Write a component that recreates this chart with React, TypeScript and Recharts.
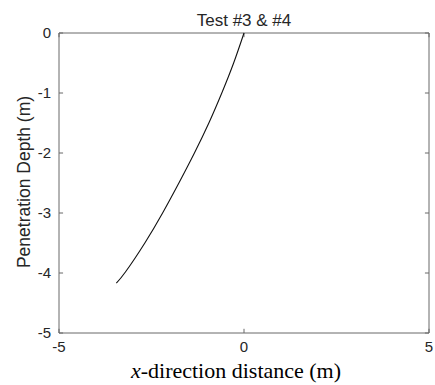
import React from "react";
import { LineChart, Line, XAxis, YAxis, ReferenceLine } from "recharts";

// depth (m) vs x-direction distance (m)
const xDistance = [0, -0.28, -0.6, -0.95, -1.34, -1.76, -2.2, -2.68, -3.2, -3.45];
const depth = [0, -0.5, -1, -1.5, -2, -2.5, -3, -3.5, -3.98, -4.17];

const xTicks = [-5, 0, 5];
const yTicks = [0, -1, -2, -3, -4, -5];

const data = xDistance.map((x, i) => ({ x, y: depth[i] }));

const AXIS = "dimgray";
const TEXT = "#262626";
const SANS = "Liberation Sans, Arial, sans-serif";
// inward tick length in data units (about 4px each way)
const TICK_DX = 0.11;
const TICK_DY = 0.07;

const tickStyle = { fill: TEXT, fontSize: 15, fontFamily: SANS };

export default function App() {
  return (
    <div style={{ position: "absolute", left: 0, top: 0 }}>
      <LineChart
        width={435}
        height={385}
        data={data}
        margin={{ top: 33, right: 6, bottom: 22, left: 19 }}
      >
        <XAxis
          type="number"
          dataKey="x"
          domain={[-5, 5]}
          ticks={xTicks}
          tick={tickStyle}
          tickLine={false}
          stroke={AXIS}
        />
        <YAxis
          type="number"
          domain={[-5, 0]}
          ticks={yTicks}
          tick={tickStyle}
          tickLine={false}
          stroke={AXIS}
          width={40}
        />
        <ReferenceLine y={0} stroke={AXIS} />
        <ReferenceLine x={5} stroke={AXIS} />
        {xTicks.map((t) => (
          <ReferenceLine key={`xb${t}`} segment={[{ x: t, y: -5 }, { x: t, y: -5 + TICK_DY }]} stroke={AXIS} />
        ))}
        {xTicks.map((t) => (
          <ReferenceLine key={`xt${t}`} segment={[{ x: t, y: 0 }, { x: t, y: -TICK_DY }]} stroke={AXIS} />
        ))}
        {yTicks.map((t) => (
          <ReferenceLine key={`yl${t}`} segment={[{ x: -5, y: t }, { x: -5 + TICK_DX, y: t }]} stroke={AXIS} />
        ))}
        {yTicks.map((t) => (
          <ReferenceLine key={`yr${t}`} segment={[{ x: 5, y: t }, { x: 5 - TICK_DX, y: t }]} stroke={AXIS} />
        ))}
        <Line
          type="natural"
          dataKey="y"
          stroke="#111"
          strokeWidth={1.1}
          dot={false}
          isAnimationActive={false}
        />
      </LineChart>
      <svg
        width={435}
        height={385}
        style={{ position: "absolute", left: 0, top: 0, pointerEvents: "none" }}
      >
        <text x={244} y={26} textAnchor="middle" fill={TEXT} fontSize={17} fontFamily={SANS}>
          Test #3 &amp; #4
        </text>
        <text x={236} y={378} textAnchor="middle" fill="#000" fontSize={22} fontFamily="Liberation Serif, Times New Roman, serif">
          <tspan fontStyle="italic">x</tspan>-direction distance (m)
        </text>
        <text
          x={30}
          y={182}
          transform="rotate(-90 30 182)"
          textAnchor="middle"
          fill={TEXT}
          fontSize={17.5}
          fontFamily={SANS}
        >
          Penetration Depth (m)
        </text>
      </svg>
    </div>
  );
}
